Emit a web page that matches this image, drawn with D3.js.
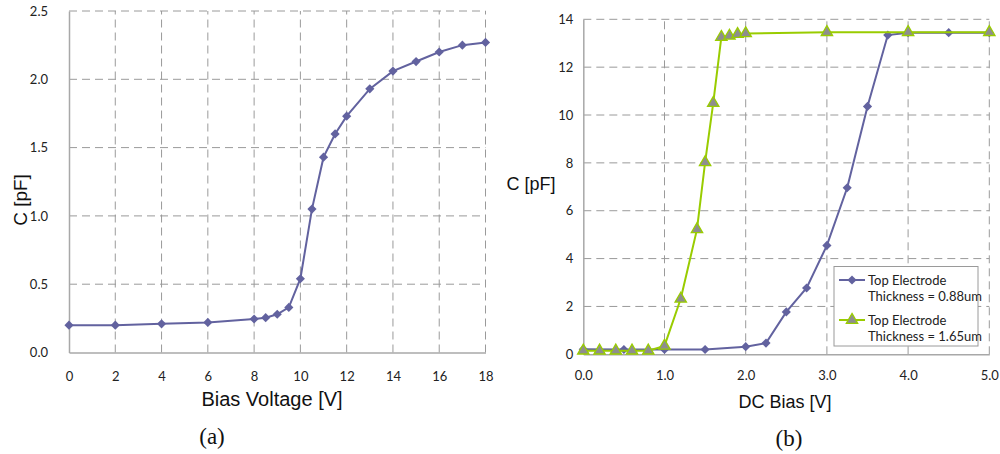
<html>
<head>
<script src="https://d3js.org/d3.v7.min.js"></script>
<style>
body { margin: 0; background: #fff; }
svg { background: #fff; }
.tick text { font-family: "Lato", "Open Sans", sans-serif; font-size: 13px; fill: #222; }
.grid line { stroke: #9a9a9a; stroke-dasharray: 8,5; stroke-width: 1; }
.title { font-family: "Liberation Sans", Arial, sans-serif; font-size: 18px; fill: #111; }
.cap { font-family: "Liberation Serif", "Times New Roman", serif; font-size: 23px; fill: #111; }
.legend text { font-family: "Lato", "Open Sans", sans-serif; font-size: 13px; fill: #222; }
</style>
</head>
<body>
<svg width="1000" height="454"></svg>
<script>
// (a) Bias voltage sweep
var biasV = [0, 2, 4, 6, 8, 8.5, 9, 9.5, 10, 10.5, 11, 11.5, 12, 13, 14, 15, 16, 17, 18];
var capA  = [0.20, 0.20, 0.21, 0.22, 0.245, 0.255, 0.28, 0.33, 0.54, 1.05, 1.43, 1.60, 1.73, 1.93, 2.06, 2.13, 2.20, 2.25, 2.27];
var xTicksA = [0, 2, 4, 6, 8, 10, 12, 14, 16, 18];
var yTicksA = [0, 0.5, 1.0, 1.5, 2.0, 2.5];

// (b) DC bias, two electrode thicknesses
var dcThin = [0, 0.5, 1.0, 1.5, 2.0, 2.25, 2.5, 2.75, 3.0, 3.25, 3.5, 3.75, 4.0, 4.5, 5.0];
var capThin = [0.21, 0.20, 0.20, 0.20, 0.32, 0.47, 1.77, 2.77, 4.55, 6.96, 10.36, 13.34, 13.44, 13.44, 13.44];
var dcThick = [0, 0.2, 0.4, 0.6, 0.8, 1.0, 1.2, 1.4, 1.5, 1.6, 1.7, 1.8, 1.9, 2.0, 3.0, 4.0, 5.0];
var capThick = [0.15, 0.15, 0.15, 0.15, 0.15, 0.35, 2.32, 5.22, 8.02, 10.5, 13.26, 13.31, 13.38, 13.41, 13.46, 13.46, 13.46];
var xTicksB = [0, 1, 2, 3, 4, 5];
var yTicksB = [0, 2, 4, 6, 8, 10, 12, 14];
var seriesNames = ["Top Electrode|Thickness = 0.88um", "Top Electrode|Thickness = 1.65um"];

var blue = "#62629f", green = "#99cc00", triFill = "#8e8e8e", axisCol = "#a8a8a8";
var svg = d3.select("svg");

function frame(g, x, y, xt, yt, xf, yf, padX, padY) {
  var x0 = x.range()[0], x1 = x.range()[1], y0 = y.range()[0], y1 = y.range()[1];
  var grid = g.append("g").attr("class", "grid");
  grid.selectAll("line.h").data(yt.filter(d => d != 0)).enter().append("line")
    .attr("x1", x0).attr("x2", x1).attr("y1", d => y(d)).attr("y2", d => y(d));
  grid.selectAll("line.v").data(xt.filter(d => d != 0)).enter().append("line")
    .attr("y1", y0).attr("y2", y1).attr("x1", d => x(d)).attr("x2", d => x(d));
  var ax = g.append("g").attr("transform", "translate(0," + y0 + ")")
    .call(d3.axisBottom(x).tickValues(xt).tickFormat(xf).tickSize(0).tickPadding(padX));
  ax.select(".domain").attr("stroke", axisCol).attr("stroke-width", 1.5);
  var ay = g.append("g").attr("transform", "translate(" + x0 + ",0)")
    .call(d3.axisLeft(y).tickValues(yt).tickFormat(yf).tickSize(0).tickPadding(padY));
  ay.select(".domain").attr("stroke", axisCol).attr("stroke-width", 1.5);
}

function marker(sel, col, shape) {
  if (shape == "diamond") {
    sel.attr("d", d3.symbol(d3.symbolSquare, 42)()).attr("fill", col);
  } else {
    sel.attr("d", d3.symbol(d3.symbolTriangle, 56)()).attr("fill", triFill)
      .attr("stroke", col).attr("stroke-width", 1.3);
  }
}

function series(g, x, y, xs, ys, col, shape) {
  var pts = xs.map((d, i) => [d, ys[i]]);
  g.append("path").datum(pts)
    .attr("fill", "none").attr("stroke", col).attr("stroke-width", 2)
    .attr("d", d3.line().x(d => x(d[0])).y(d => y(d[1])));
  var m = g.selectAll(null).data(pts).enter().append("path")
    .attr("transform", d => "translate(" + x(d[0]) + "," + y(d[1]) + ")" + (shape == "diamond" ? " rotate(45)" : ""));
  marker(m, col, shape);
}

// ---- chart (a)
var xa = d3.scaleLinear().domain([0, 18]).range([69, 485.5]);
var ya = d3.scaleLinear().domain([0, 2.5]).range([352.5, 11]);
var ga = svg.append("g");
frame(ga, xa, ya, xTicksA, yTicksA, d3.format("d"), d3.format(".1f"), 19, 21);
series(ga, xa, ya, biasV, capA, blue, "diamond");
ga.append("text").attr("class", "title").attr("text-anchor", "middle").style("font-size", "20px")
  .attr("x", 272).attr("y", 406).text("Bias Voltage [V]");
ga.append("text").attr("class", "title").attr("text-anchor", "middle").style("font-size", "19px")
  .attr("transform", "translate(27,200) rotate(-90)").text("C [pF]");
ga.append("text").attr("class", "cap").attr("text-anchor", "middle")
  .attr("x", 212).attr("y", 444).text("(a)");

// ---- chart (b)
var xb = d3.scaleLinear().domain([0, 5]).range([583.3, 989.3]);
var yb = d3.scaleLinear().domain([0, 14]).range([354.3, 19.3]);
var gb = svg.append("g");
frame(gb, xb, yb, xTicksB, yTicksB, d3.format(".1f"), d3.format("d"), 16, 10);
series(gb, xb, yb, dcThin, capThin, blue, "diamond");
series(gb, xb, yb, dcThick, capThick, green, "triangle");
gb.append("text").attr("class", "title").attr("text-anchor", "middle")
  .attr("x", 785).attr("y", 408).text("DC Bias [V]");
gb.append("text").attr("class", "title").attr("text-anchor", "middle")
  .attr("x", 531).attr("y", 190).text("C [pF]");
gb.append("text").attr("class", "cap").attr("text-anchor", "middle")
  .attr("x", 789).attr("y", 446).text("(b)");

// legend
var lg = gb.append("g").attr("class", "legend");
lg.append("rect").attr("x", 834).attr("y", 266.5).attr("width", 144).attr("height", 79.5)
  .attr("fill", "#fff").attr("stroke", "#9a9a9a");
var cols = [blue, green], shapes = ["diamond", "triangle"];
seriesNames.forEach(function (name, i) {
  var yy = 280 + i * 40;
  lg.append("line").attr("x1", 839).attr("x2", 865).attr("y1", yy).attr("y2", yy)
    .attr("stroke", cols[i]).attr("stroke-width", 2);
  var mk = lg.append("path").attr("transform", "translate(852," + yy + ")" + (shapes[i] == "diamond" ? " rotate(45)" : ""));
  marker(mk, cols[i], shapes[i]);
  name.split("|").forEach(function (t, j) {
    lg.append("text").attr("x", 868).attr("y", yy + 4.5 + j * 16).text(t);
  });
});
</script>
</body>
</html>
